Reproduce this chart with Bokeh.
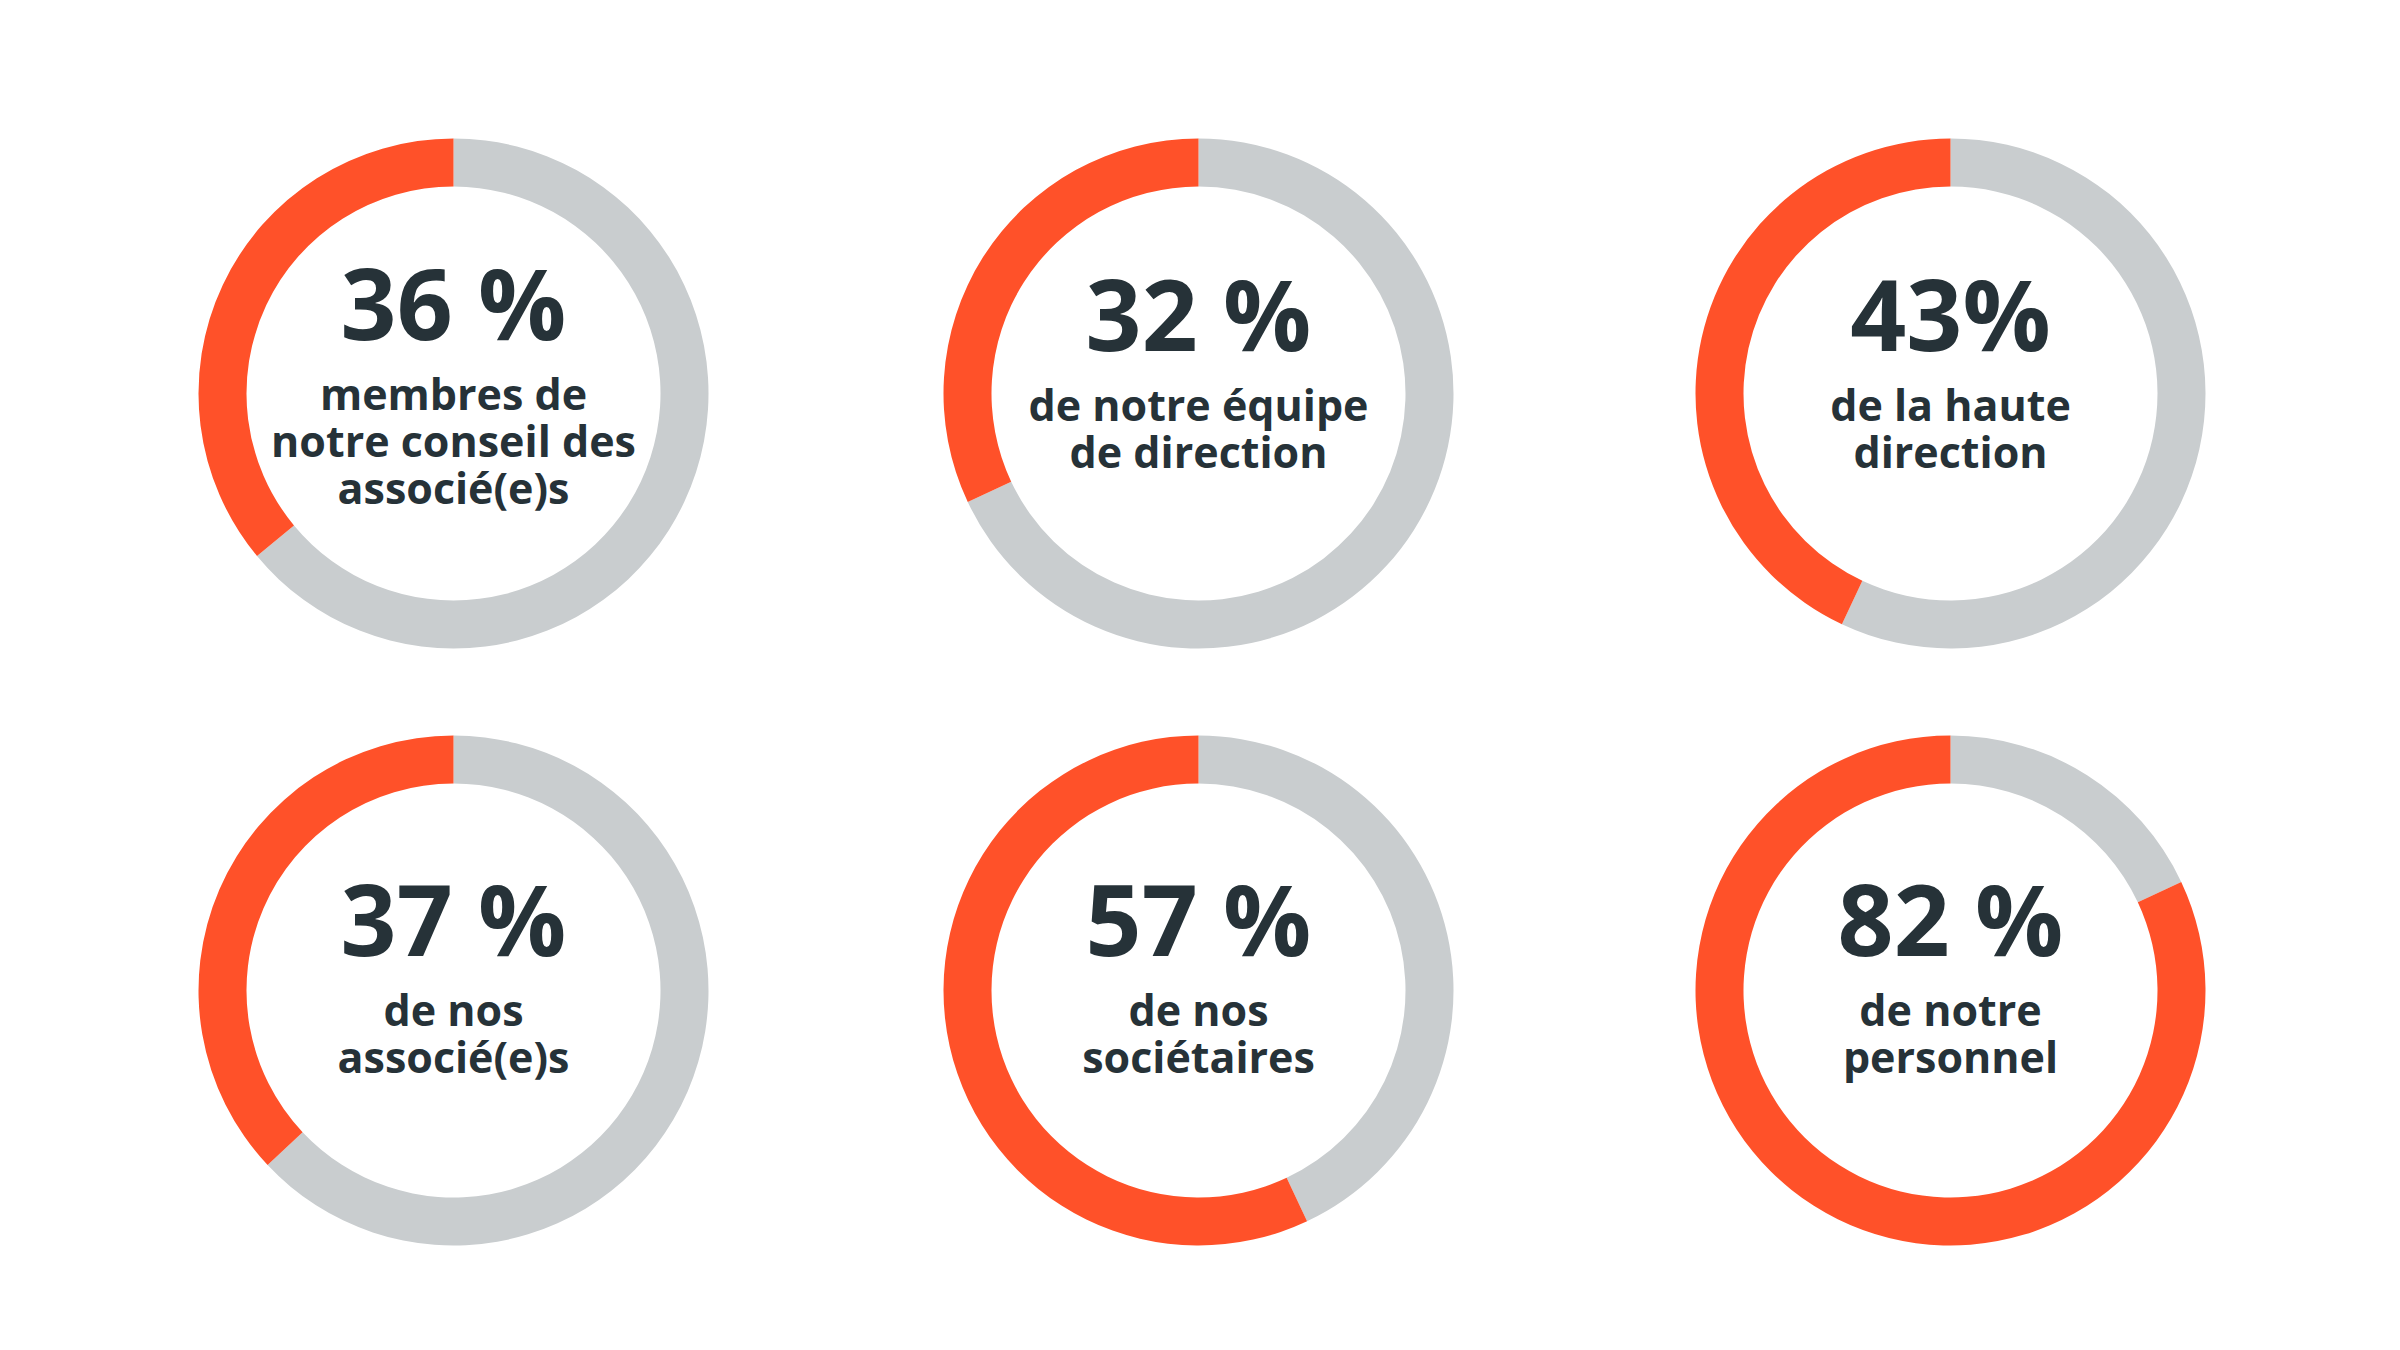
from math import pi

from bokeh.plotting import figure
from bokeh.models import Range1d, ColumnDataSource
from bokeh.core.properties import value
from bokeh.embed import file_html
from bokeh.resources import INLINE

# share of each group (percent), read left-to-right, top-to-bottom
shares = [36, 32, 43, 37, 57, 82]
share_labels = ["36 %", "32 %", "43%", "37 %", "57 %", "82 %"]
captions = [
    ["membres de", "notre conseil des", "associé(e)s"],
    ["de notre équipe", "de direction"],
    ["de la haute", "direction"],
    ["de nos", "associé(e)s"],
    ["de nos", "sociétaires"],
    ["de notre", "personnel"],
]

ORANGE = "#ff5129"
GREY = "#c9cdcf"
INK = "#263238"
FONT = "Open Sans"
NUM_SIZE, CAP_SIZE = 98, 43

W, H = 2384, 1334
col_x = [453, 1198, 1950]
row_y = [393, 990]          # measured from the top of the page
row_drop = [3, 11]          # text block sits a little lower in the 2nd row
R_OUT, R_IN = 255, 207

p = figure(width=W, height=H, x_range=Range1d(0, W), y_range=Range1d(1350 - H, 1350),
           output_backend="svg", toolbar_location=None, min_border=0)
p.axis.visible = False
p.grid.visible = False
p.outline_line_color = None
p.background_fill_color = "white"
p.border_fill_color = "white"

xs, ys, starts, ends = [], [], [], []
for i, s in enumerate(shares):
    xs.append(col_x[i % 3])
    ys.append(1350 - row_y[i // 3])
    starts.append(pi / 2)
    ends.append(pi / 2 + s / 100 * 2 * pi)

done = ColumnDataSource(dict(x=xs, y=ys, start=starts, end=ends))
rest = ColumnDataSource(dict(x=xs, y=ys, start=ends, end=[pi / 2 + 2 * pi] * len(xs)))

p.annular_wedge(x="x", y="y", inner_radius=R_IN, outer_radius=R_OUT,
                start_angle="start", end_angle="end", source=rest,
                fill_color=GREY, line_color=None)
p.annular_wedge(x="x", y="y", inner_radius=R_IN, outer_radius=R_OUT,
                start_angle="start", end_angle="end", source=done,
                fill_color=ORANGE, line_color=None)

# wanted baselines relative to ring centre (px, downwards); the text glyph
# sits about 0.42 em lower than asked, so lift it by that much
num_x, num_y, num_t = [], [], []
cap_x, cap_y, cap_t = [], [], []
for i, lines in enumerate(captions):
    cx, cy = xs[i], ys[i]
    shift = -11 * (len(lines) - 2) + row_drop[i // 3]
    num_x.append(cx)
    num_y.append(cy - (-42 + shift) + 0.42 * NUM_SIZE)
    num_t.append(share_labels[i])
    for k, line in enumerate(lines):
        cap_x.append(cx)
        cap_y.append(cy - (26 + 47 * k + shift) + 0.42 * CAP_SIZE)
        cap_t.append(line)

p.text(x=num_x, y=num_y, text=num_t, text_align="center", text_baseline="alphabetic",
       text_font=value(FONT), text_font_style="bold", text_font_size=f"{NUM_SIZE}px",
       text_color=INK)
p.text(x=cap_x, y=cap_y, text=cap_t, text_align="center", text_baseline="alphabetic",
       text_font=value(FONT), text_font_style="bold", text_font_size=f"{CAP_SIZE}px",
       text_color=INK)

open("out.html", "w").write(file_html(p, INLINE))
